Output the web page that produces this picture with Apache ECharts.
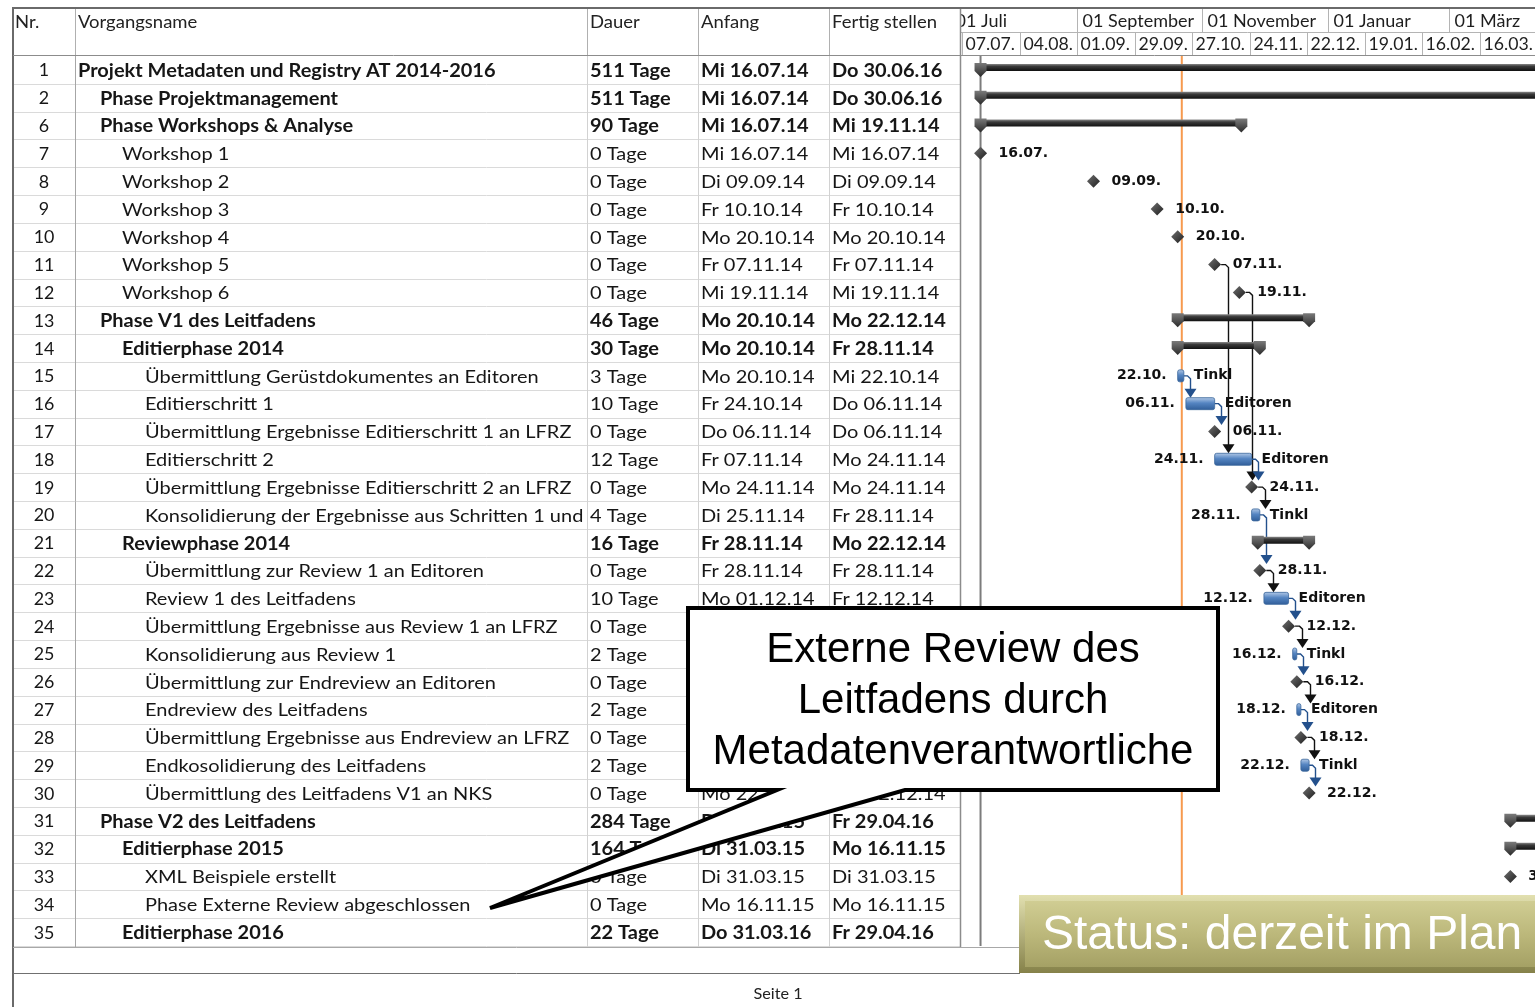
<!DOCTYPE html>
<html><head><meta charset="utf-8">
<script src="https://cdn.jsdelivr.net/npm/echarts@6/dist/echarts.min.js"></script>
<style>html,body{margin:0;padding:0;background:#fff}#c{width:1535px;height:1007px}</style>
</head><body><div id="c"></div>
<script>
// ---------------- DATA ----------------
const rowIds = [1,2,6,7,8,9,10,11,12,13,14,15,16,17,18,19,20,21,22,23,24,25,26,27,28,29,30,31,32,33,34,35];
const taskNames = [
'Projekt Metadaten und Registry AT 2014-2016',
'Phase Projektmanagement',
'Phase Workshops & Analyse',
'Workshop 1','Workshop 2','Workshop 3','Workshop 4','Workshop 5','Workshop 6',
'Phase V1 des Leitfadens',
'Editierphase 2014',
'Übermittlung Gerüstdokumentes an Editoren',
'Editierschritt 1',
'Übermittlung Ergebnisse Editierschritt 1 an LFRZ',
'Editierschritt 2',
'Übermittlung Ergebnisse Editierschritt 2 an LFRZ',
'Konsolidierung der Ergebnisse aus Schritten 1 und 2',
'Reviewphase 2014',
'Übermittlung zur Review 1 an Editoren',
'Review 1 des Leitfadens',
'Übermittlung Ergebnisse aus Review 1 an LFRZ',
'Konsolidierung aus Review 1',
'Übermittlung zur Endreview an Editoren',
'Endreview des Leitfadens',
'Übermittlung Ergebnisse aus Endreview an LFRZ',
'Endkosolidierung des Leitfadens',
'Übermittlung des Leitfadens V1 an NKS',
'Phase V2 des Leitfadens',
'Editierphase 2015',
'XML Beispiele erstellt',
'Phase Externe Review abgeschlossen',
'Editierphase 2016'];
const outlineLevels = [0,1,1,2,2,2,2,2,2,1,2,3,3,3,3,3,3,2,3,3,3,3,3,3,3,3,3,1,2,3,3,2];
const durations = ['511 Tage','511 Tage','90 Tage','0 Tage','0 Tage','0 Tage','0 Tage','0 Tage','0 Tage','46 Tage','30 Tage','3 Tage','10 Tage','0 Tage','12 Tage','0 Tage','4 Tage','16 Tage','0 Tage','10 Tage','0 Tage','2 Tage','0 Tage','2 Tage','0 Tage','2 Tage','0 Tage','284 Tage','164 Tage','0 Tage','0 Tage','22 Tage'];
const startTexts = ['Mi 16.07.14','Mi 16.07.14','Mi 16.07.14','Mi 16.07.14','Di 09.09.14','Fr 10.10.14','Mo 20.10.14','Fr 07.11.14','Mi 19.11.14','Mo 20.10.14','Mo 20.10.14','Mo 20.10.14','Fr 24.10.14','Do 06.11.14','Fr 07.11.14','Mo 24.11.14','Di 25.11.14','Fr 28.11.14','Fr 28.11.14','Mo 01.12.14','Fr 12.12.14','Mo 15.12.14','Di 16.12.14','Mi 17.12.14','Do 18.12.14','Fr 19.12.14','Mo 22.12.14','Di 31.03.15','Di 31.03.15','Di 31.03.15','Mo 16.11.15','Do 31.03.16'];
const finishTexts = ['Do 30.06.16','Do 30.06.16','Mi 19.11.14','Mi 16.07.14','Di 09.09.14','Fr 10.10.14','Mo 20.10.14','Fr 07.11.14','Mi 19.11.14','Mo 22.12.14','Fr 28.11.14','Mi 22.10.14','Do 06.11.14','Do 06.11.14','Mo 24.11.14','Mo 24.11.14','Fr 28.11.14','Mo 22.12.14','Fr 28.11.14','Fr 12.12.14','Fr 12.12.14','Di 16.12.14','Di 16.12.14','Do 18.12.14','Do 18.12.14','Mo 22.12.14','Mo 22.12.14','Fr 29.04.16','Mo 16.11.15','Di 31.03.15','Mo 16.11.15','Fr 29.04.16'];
const summaryRows = [1,2,6,13,14,21,31,32,35];
const resourceRows = [15,16,18,20,23,25,27,29];
const resourceNames = ['Tinkl','Editoren','Editoren','Tinkl','Editoren','Tinkl','Editoren','Tinkl'];
const links = [[11,18],[12,19],[15,16],[16,17],[18,19],[19,20],[20,22],[22,23],[23,24],[24,25],[25,26],[26,27],[27,28],[28,29],[29,30]];
const projectStart = '2014-07-16';
const statusDate = '2014-10-22';
const viewFrom = '2014-07-06', viewTo = '2015-04-12';
const topTierDates = ['2014-07-01','2014-09-01','2014-11-01','2015-01-01','2015-03-01'];
const topTierLabels = ['01 Juli','01 September','01 November','01 Januar','01 März'];
const bottomTierDates = ['2014-07-07','2014-08-04','2014-09-01','2014-09-29','2014-10-27','2014-11-24','2014-12-22','2015-01-19','2015-02-16','2015-03-16'];
const bottomTierLabels = ['07.07.','04.08.','01.09.','29.09.','27.10.','24.11.','22.12.','19.01.','16.02.','16.03.'];
const headerTitles = ['Nr.','Vorgangsname','Dauer','Anfang','Fertig stellen'];
const calloutLines = ['Externe Review des','Leitfadens durch','Metadatenverantwortliche'];
const statusText = 'Status: derzeit im Plan';
const footerText = 'Seite 1';

// ---------------- HELPERS ----------------
const DAY = 864e5;
function dayTs(s){ const m = /(\d\d)\.(\d\d)\.(\d\d)/.exec(s); return Date.UTC(2000+Number(m[3]), Number(m[2])-1, Number(m[1])); }
function isoTs(s){ const p = s.split('-'); return Date.UTC(+p[0], +p[1]-1, +p[2]); }
function fmtDay(ts){ const d = new Date(ts); const p = n => (n<10?'0':'')+n; return p(d.getUTCDate())+'.'+p(d.getUTCMonth()+1)+'.'; }
const idxOf = id => rowIds.indexOf(id);
const startTs = startTexts.map(dayTs), finishTs = finishTexts.map(dayTs);
const kinds = rowIds.map((id,i) => summaryRows.includes(id) ? 'S' : (durations[i].indexOf('0 ')===0 ? 'M' : 'T'));
const hasTaskPred = rowIds.map(id => links.some(l => l[1]===id && kinds[idxOf(l[0])]==='T'));
function msTs(i){ return startTs[i] + (hasTaskPred[i] ? DAY : 0); }
function endTs(i){ return kinds[i]==='M' ? msTs(i) : finishTs[i] + DAY; }
const indentX = [78,100,122,145];
const TFONT = 'Lato';
const GFONT = '"DejaVu Sans"';
const SX = 1.11;   // horizontal stretch imitating the wide ClearType table font

function txt(text, x, y, font, align, fill, extra, sx){
  const a = align || 'left';
  const st = Object.assign({text, x:0, y:0, font, fill: fill||'#161616', align:a, verticalAlign:'middle', textAlign:a, textVerticalAlign:'middle'}, extra||{});
  return {type:'text', x, y, scaleX: sx||1, scaleY:1, style: st};
}
const lg = (stops) => ({type:'linear', x:0, y:0, x2:0, y2:1, colorStops: stops.map(c=>({offset:c[0], color:c[1]}))});
const sumGrad = lg([[0,'#8a8a8a'],[0.35,'#3a3a3a'],[1,'#111']]);
const capGrad = lg([[0,'#7a7a7a'],[1,'#2a2a2a']]);
const taskGrad = lg([[0,'#b5cbe8'],[0.45,'#5585c2'],[1,'#2f5d98']]);
const msGrad = {type:'linear', x:0, y:0, x2:1, y2:1, colorStops:[{offset:0,color:'#707070'},{offset:1,color:'#1e1e1e'}]};

// ---------------- RENDERERS ----------------
function renderTable(params, api){
  const i = api.value(1);
  const band = api.size([0,1])[1];
  const c = api.coord([0,i])[1];
  const bold = kinds[i]==='S';
  const font = (bold?'bold ':'') + '18px ' + TFONT;
  const y = c + 1;
  const yl = Math.round(c + band/2) + 0.5;
  const lx = indentX[outlineLevels[i]];
  return {type:'group', children:[
    {type:'line', shape:{x1:13, y1:yl, x2:960, y2:yl}, style:{stroke:'#dadada', lineWidth:1}},
    txt(String(rowIds[i]), 44, y, '17px '+TFONT, 'center', '#161616', null, 1.05),
    txt(taskNames[i], lx, y, font, 'left', '#161616', {width: (588-lx)/SX, overflow:'truncate', ellipsis:''}, SX),
    txt(durations[i], 590, y, font, 'left', '#161616', null, SX),
    txt(startTexts[i], 701, y, font, 'left', '#161616', null, SX),
    txt(finishTexts[i], 832, y, font, 'left', '#161616', null, SX)
  ]};
}
function capAt(x, c){
  return {type:'polygon', shape:{points:[[x-6,c-7],[x+6,c-7],[x+6,c+1],[x,c+7],[x-6,c+1]]}, style:{fill:capGrad}};
}
function glabel(text, x, c, align){ return txt(text, x, c, 'bold 14px '+GFONT, align, '#111'); }
function renderGantt(params, api){
  const i = api.value(1);
  const c = api.coord([startTs[i], i])[1];
  const k = kinds[i];
  const el = [];
  if (k==='S'){
    const x1 = api.coord([startTs[i], i])[0], x2 = api.coord([finishTs[i]+DAY, i])[0];
    el.push({type:'rect', shape:{x:x1, y:c-6, width:x2-x1, height:7}, style:{fill:sumGrad}});
    el.push(capAt(x1,c), capAt(x2,c));
  } else if (k==='T'){
    const x1 = api.coord([startTs[i], i])[0], x2 = api.coord([finishTs[i]+DAY, i])[0];
    el.push({type:'rect', shape:{x:x1, y:c-6, width:Math.max(x2-x1,3), height:12, r:2}, style:{fill:taskGrad, stroke:'#3b679c', lineWidth:0.8}});
    el.push(glabel(fmtDay(finishTs[i]), x1-11, c, 'right'));
    const r = resourceRows.indexOf(rowIds[i]);
    if (r >= 0) el.push(glabel(resourceNames[r], x2+10, c, 'left'));
  } else {
    const x = api.coord([msTs(i), i])[0];
    el.push({type:'polygon', shape:{points:[[x,c-6.5],[x+6.5,c],[x,c+6.5],[x-6.5,c]]}, style:{fill:msGrad}});
    el.push(glabel(fmtDay(finishTs[i]), x+18, c, 'left'));
  }
  return {type:'group', children: el};
}
function renderLink(params, api){
  const a = api.value(1), b = api.value(2);
  const pa = api.coord([endTs(a), a]);
  const isM = kinds[a]==='M';
  const x0 = isM ? pa[0]+6.5 : pa[0];
  const xv = Math.round(isM ? pa[0]+13 : pa[0]+6) + 0.5;
  const yb = api.coord([0, b])[1];
  const yTop = yb - (kinds[b]==='M' ? 6.5 : 6);
  const color = isM ? '#111111' : '#23508c';
  const y0 = pa[1];
  return {type:'group', children:[
    {type:'polyline', shape:{points:[[x0,y0],[xv-3,y0],[xv,y0+3],[xv,yTop-8]]}, style:{stroke:color, lineWidth:1.4, fill:null}},
    {type:'polygon', shape:{points:[[xv-6,yTop-9],[xv+6,yTop-9],[xv,yTop]]}, style:{fill:color}}
  ]};
}
function renderHeader(params, api){
  const x = Math.round(api.coord([api.value(0), 0])[0]) + 0.5;
  const tier = api.value(2), j = api.value(3);
  if (tier === 0){
    return {type:'group', children:[
      {type:'line', shape:{x1:x, y1:9, x2:x, y2:32}, style:{stroke:'#b4b4b4', lineWidth:1}},
      txt(topTierLabels[j], x+5, 22, '17px '+TFONT, 'left', '#1e1e1e', null, 1.06)
    ]};
  }
  return {type:'group', children:[
    {type:'line', shape:{x1:x, y1:33, x2:x, y2:55}, style:{stroke:'#b4b4b4', lineWidth:1}},
    txt(bottomTierLabels[j], x+3, 45, '17px '+TFONT, 'left', '#1e1e1e', null, 1.04)
  ]};
}
function renderVLine(params, api){
  const x = api.coord([api.value(0), 0])[0];
  const cs = params.coordSys;
  const t = api.value(2);
  return {type:'line', shape:{x1:x, y1:cs.y, x2:x, y2:cs.y+cs.height}, style:{stroke: t===0 ? '#7c7c7c' : '#f79a4e', lineWidth: 2}};
}

// ---------------- STATIC FRAME ----------------
const G = [];
function gl(x1,y1,x2,y2,stroke,w,z){ G.push({type:'line', silent:true, z:z||5, shape:{x1,y1,x2,y2}, style:{stroke, lineWidth:w}}); }
G.push({type:'rect', silent:true, z:50, shape:{x:938, y:9, width:22, height:23}, style:{fill:'#fff'}});
gl(12,8,1535,8,'#6a6a6a',2,60);
gl(13,7,13,1007,'#6a6a6a',2,60);
gl(13,55.5,1535,55.5,'#8c8c8c',1,60);
gl(960,32.5,1535,32.5,'#b4b4b4',1,60);
[75,587,698,829].forEach(x => gl(x+0.5,9,x+0.5,55,'#b0b0b0',1,60));
gl(75.5,56,75.5,947,'#a6a6a6',1,60);
[587,698,829].forEach(x => gl(x+0.5,56,x+0.5,947,'#d2d2d2',1,60));
gl(960.5,9,960.5,947,'#8c8c8c',1.5,60);
gl(13,947.5,1020,947.5,'#a8a8a8',1,60);
gl(13,973.5,1020,973.5,'#707070',1,60);
const headerX = [15,78,590,701,832];
headerTitles.forEach((t,k) => G.push(Object.assign(txt(t, headerX[k], 23, '16.5px '+TFONT, 'left', '#222', null, 1.12), {z:61, silent:true})));
G.push(Object.assign(txt(footerText, 778, 994, '15px '+TFONT, 'center', '#222', null, 1.08), {z:61, silent:true}));
// callout
G.push({type:'polygon', silent:true, z:100, shape:{points:[[688,608],[1218,608],[1218,790],[905,790],[490,908],[777,790],[688,790]]}, style:{fill:'#fff', stroke:'#000', lineWidth:4, lineJoin:'miter'}});
calloutLines.forEach((t,k) => G.push(Object.assign(txt(t, 953, 650+51*k, '42px "Liberation Sans"', 'center', '#000'), {z:101, silent:true})));
// status box
G.push({type:'rect', silent:true, z:100, shape:{x:1019, y:895, width:530, height:78}, style:{fill: lg([[0,'#e2e0b0'],[1,'#858149']])}});
G.push({type:'rect', silent:true, z:100, shape:{x:1025, y:901, width:520, height:66}, style:{fill: lg([[0,'#d0cd93'],[0.5,'#bcb87b'],[1,'#a5a165']])}});
G.push(Object.assign(txt(statusText, 1042, 936, '48px "Liberation Sans"', 'left', '#ffffff'), {z:101, silent:true}));

// ---------------- CHART ----------------
const chart = echarts.init(document.getElementById('c'), null, {renderer:'canvas'});
const catData = rowIds.map(String);
chart.setOption({
  animation:false,
  backgroundColor:'#ffffff',
  grid:[
    {left:13, top:56, width:947, height:890, containLabel:false},
    {left:960, top:56, width:575, height:890, containLabel:false}
  ],
  xAxis:[
    {gridIndex:0, type:'value', min:0, max:1, show:false},
    {gridIndex:1, type:'value', min:isoTs(viewFrom), max:isoTs(viewTo), show:false}
  ],
  yAxis:[
    {gridIndex:0, type:'category', data:catData, inverse:true, show:false},
    {gridIndex:1, type:'category', data:catData, inverse:true, show:false}
  ],
  graphic:{elements:G},
  series:[
    {type:'custom', name:'table', xAxisIndex:0, yAxisIndex:0, renderItem:renderTable, encode:{x:0,y:1}, data: rowIds.map((id,i)=>[0,i]), silent:true},
    {type:'custom', name:'lines', xAxisIndex:1, yAxisIndex:1, renderItem:renderVLine, encode:{x:0,y:1}, z:1,
      data:[[isoTs(projectStart),0,0],[isoTs(statusDate),0,1]], silent:true},
    {type:'custom', name:'links', xAxisIndex:1, yAxisIndex:1, renderItem:renderLink, encode:{x:0,y:1}, z:3,
      data: links.map(l => [endTs(idxOf(l[0])), idxOf(l[0]), idxOf(l[1])]), silent:true},
    {type:'custom', name:'gantt', xAxisIndex:1, yAxisIndex:1, renderItem:renderGantt, encode:{x:0,y:1}, z:4,
      data: rowIds.map((id,i)=>[startTs[i], i]), silent:true},
    {type:'custom', name:'timescale', xAxisIndex:1, yAxisIndex:1, renderItem:renderHeader, encode:{x:0,y:1}, z:4, clip:false,
      data: topTierDates.map((d,j)=>[isoTs(d),0,0,j]).concat(bottomTierDates.map((d,j)=>[isoTs(d),0,1,j])), silent:true}
  ]
});
</script>
</body></html>
